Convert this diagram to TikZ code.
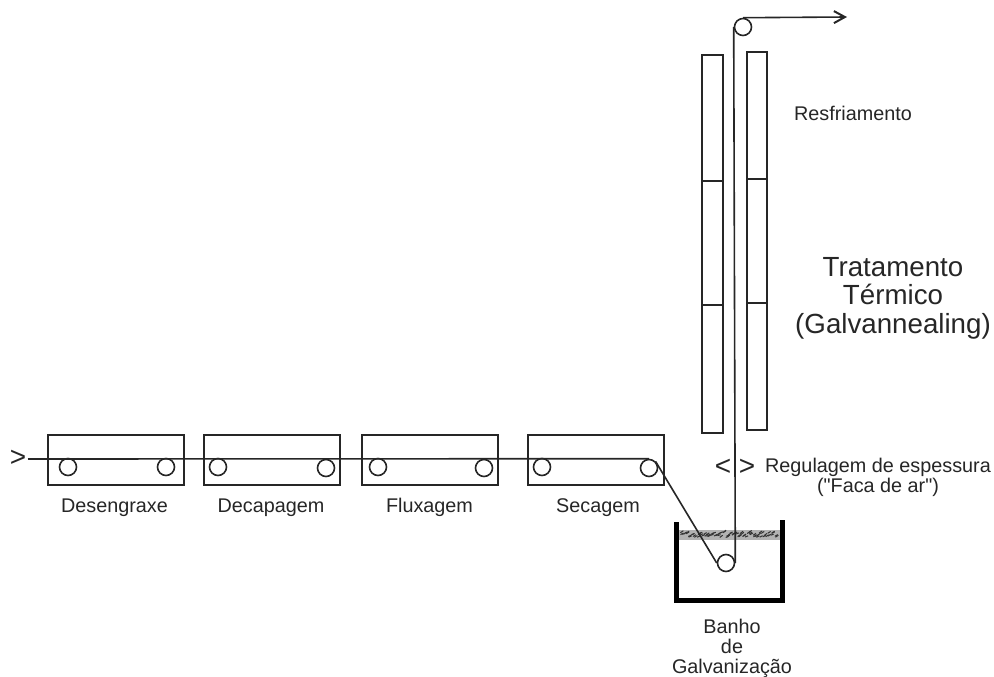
\documentclass[tikz,border=0pt]{standalone}
\usepackage{fontspec}
\setmainfont{Liberation Sans}
\newfontfamily\plainfont{Liberation Sans}
\usetikzlibrary{arrows.meta}
\tikzset{
  ln/.style={draw=black!85,line width=1.6pt},
  roller/.style={circle,draw=black!85,line width=1.6pt,inner sep=0pt,minimum size=#1},
  roller/.default=17pt,
  lab/.style={font=\fontsize{19.8}{20}\selectfont,text=black!85,align=center,inner sep=0pt,anchor=base},
  biglab/.style={font=\fontsize{27.7}{28.5}\selectfont,text=black!85,align=center,inner sep=0pt},
  chev/.style={font=\fontsize{28}{28}\selectfont,text=black!85,inner sep=0pt},
  tank/.style={draw=black,line width=5pt,line join=miter,line cap=butt},
  froth/.style={draw=black!80,line width=1pt}
}
\begin{document}
\begin{tikzpicture}[x=1pt,y=-1pt]
\useasboundingbox (0,0) rectangle (994,677);
% process boxes
\foreach \x in {48,204,362,528}
  \draw[ln] (\x,435) rectangle ++(136,50);
% cooling columns
\draw[ln] (702,55) rectangle (723,433);
\draw[ln] (702,181) -- (723,181);
\draw[ln] (702,305) -- (723,305);
\draw[ln] (747,52) rectangle (767,430);
\draw[ln] (747,179) -- (767,179);
\draw[ln] (747,303) -- (767,303);
% froth
\fill[black!30] (679,530) rectangle (780,540);
\pgfmathsetseed{11}
\foreach \i in {0,...,70}{
  \pgfmathsetmacro{\xa}{679+\i*1.36+rnd*2}
  \pgfmathsetmacro{\ya}{537.5-rnd*5}
  \draw[froth] (\xa,\ya) -- ++(3,-1-rnd*1.5);
}
% tank
\draw[tank] (676.5,522) -- (676.5,600.5) -- (782.5,600.5) -- (782.5,520);
% rollers
\node[roller] (r1) at (68,467) {};
\node[roller] (r2) at (166,467) {};
\node[roller] (r3) at (218,467) {};
\node[roller] (r4) at (326,468) {};
\node[roller] (r5) at (378,467) {};
\node[roller] (r6) at (484,468) {};
\node[roller] (r7) at (542,467) {};
\node[roller] (r8) at (649,468) {};
\node[roller] (r9) at (726,563) {};
\node[roller] (r10) at (743,27) {};
\coordinate (start) at (28,459);
\coordinate (end) at (847,17);
% strip
\draw[ln] (start) -- (r8.north);
\draw[ln] (r8.north east) -- (r9.west);
\draw[ln] (r9.east) -- (r10.west);
\draw[ln,-{Straight Barb[length=11pt,width=12pt,line width=2pt]}] (r10.north) -- (end);
% chevrons
\node[chev] (inlet) at (18,458) {>};
\node[chev] (kl) at (723,467) {<};
\node[chev] (kr) at (747,467) {>};
% labels
\node[lab] (l1) at (114.5,512) {Desengraxe};
\node[lab] (l2) at (271,512) {Decapagem};
\node[lab] (l3) at (429.5,512) {Fluxagem};
\node[lab] (l4) at (598,512) {Secagem};
\node[lab,anchor=north] (l5) at (732,619) {Banho\\de\\Galvanização};
\node[lab] (l6) at (853,121) {Resfriamento};
\node[lab] (l7) at (878,472) {Regulagem de espessura};
\node[lab] (l8) at (878,492) {{\plainfont ("Faca de ar")}};
\node[biglab] (l9) at (893,298) {Tratamento\\Térmico\\(Galvannealing)};
\end{tikzpicture}
\end{document}
